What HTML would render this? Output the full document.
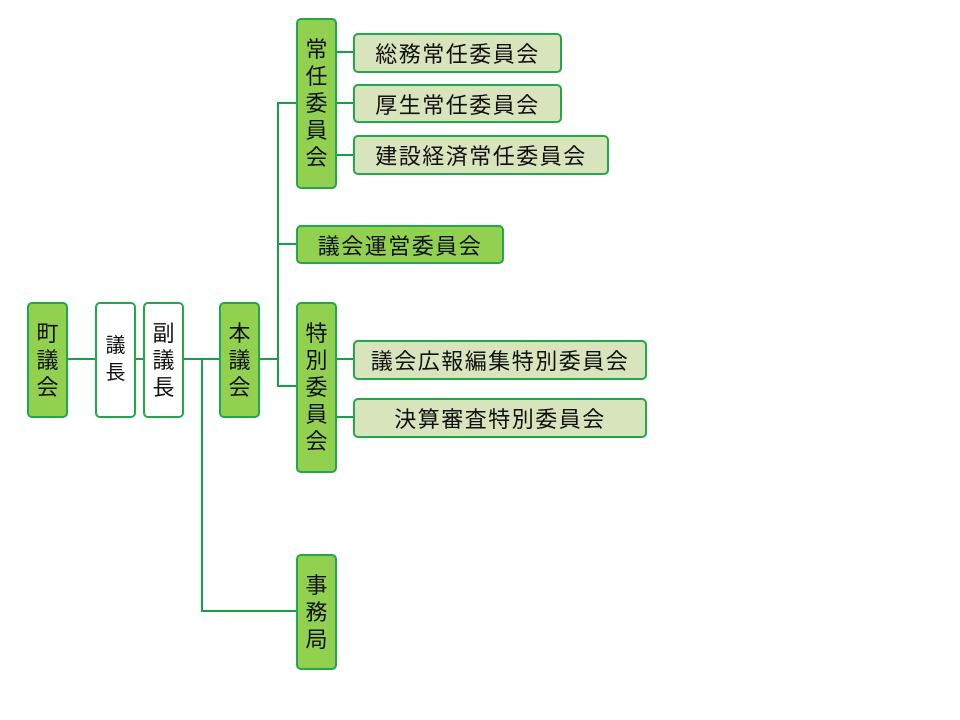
<!DOCTYPE html>
<html><head><meta charset="utf-8"><style>
body{margin:0;width:960px;height:720px;background:#fff;position:relative;overflow:hidden;font-family:"Liberation Sans","Noto Sans CJK JP",sans-serif;color:#111}
.b{position:absolute;box-sizing:border-box;border:2px solid #22a84a;border-radius:5px;display:flex;align-items:center;justify-content:center;font-size:22px;letter-spacing:1.5px}
.g{background:#92d050}.l{background:#d8e4bc}.w{background:#fff}
.v{flex-direction:column;line-height:27px;text-align:center;letter-spacing:0}
.h{position:absolute;background:#18a048;height:2px}
.vl{position:absolute;background:#18a048;width:2px}
</style></head><body>
<div class="h" style="left:68px;top:358px;width:28px"></div>
<div class="h" style="left:135px;top:358px;width:9px"></div>
<div class="h" style="left:183px;top:358px;width:37px"></div>
<div class="vl" style="left:201px;top:358px;height:254px"></div>
<div class="h" style="left:201px;top:610px;width:96px"></div>
<div class="h" style="left:260px;top:358px;width:18px"></div>
<div class="vl" style="left:277px;top:102px;height:285px"></div>
<div class="h" style="left:277px;top:102px;width:20px"></div>
<div class="h" style="left:277px;top:243px;width:20px"></div>
<div class="h" style="left:277px;top:385px;width:20px"></div>
<div class="h" style="left:336px;top:51px;width:18px"></div>
<div class="h" style="left:336px;top:102px;width:18px"></div>
<div class="h" style="left:336px;top:154px;width:18px"></div>
<div class="h" style="left:336px;top:358px;width:18px"></div>
<div class="h" style="left:336px;top:416px;width:18px"></div>

<div class="b g v" style="left:27px;top:302px;width:41px;height:116px">町<br>議<br>会</div>
<div class="b w v" style="left:95px;top:302px;width:41px;height:116px;font-size:20px">議<br>長</div>
<div class="b w v" style="left:143px;top:302px;width:41px;height:116px">副<br>議<br>長</div>
<div class="b g v" style="left:219px;top:302px;width:41px;height:116px">本<br>議<br>会</div>
<div class="b g v" style="left:296px;top:18px;width:41px;height:171px">常<br>任<br>委<br>員<br>会</div>
<div class="b g v" style="left:296px;top:302px;width:41px;height:171px">特<br>別<br>委<br>員<br>会</div>
<div class="b g v" style="left:296px;top:554px;width:41px;height:116px">事<br>務<br>局</div>
<div class="b l" style="left:353px;top:33px;width:209px;height:40px">総務常任委員会</div>
<div class="b l" style="left:353px;top:84px;width:209px;height:39px">厚生常任委員会</div>
<div class="b l" style="left:353px;top:135px;width:256px;height:40px">建設経済常任委員会</div>
<div class="b g" style="left:296px;top:225px;width:208px;height:39px">議会運営委員会</div>
<div class="b l" style="left:353px;top:340px;width:294px;height:40px">議会広報編集特別委員会</div>
<div class="b l" style="left:353px;top:398px;width:294px;height:40px">決算審査特別委員会</div>
</body></html>
